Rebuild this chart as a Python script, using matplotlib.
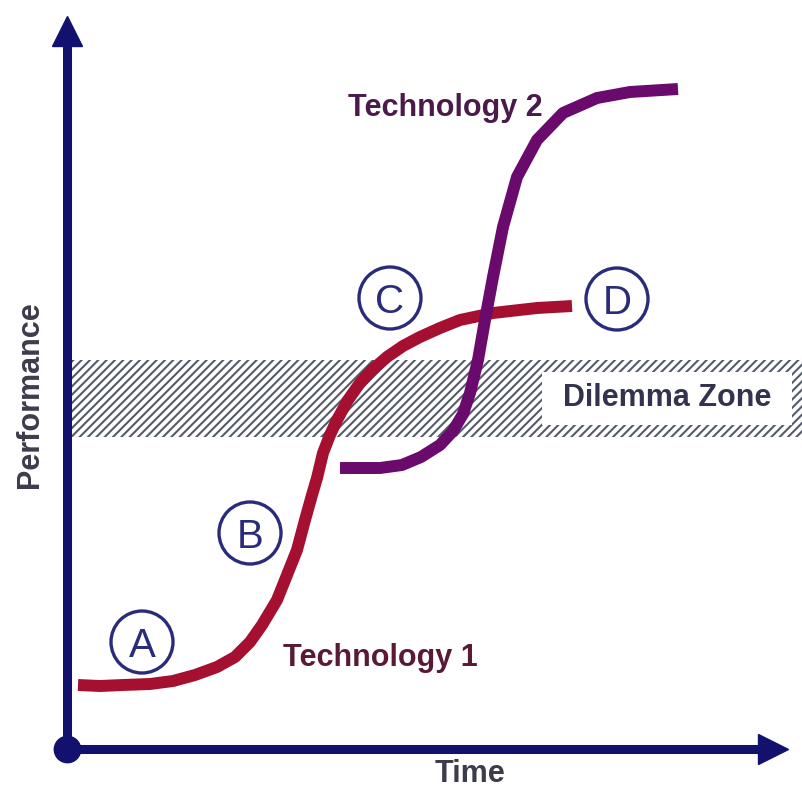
import matplotlib
matplotlib.use('Agg')
import matplotlib.pyplot as plt
from matplotlib.patches import Rectangle, Circle

# curve points (time, performance), 1 unit ~ 1 px
tech1_t = [11, 33, 56, 83, 106, 128, 150, 168, 183, 195, 210, 220, 230, 238, 245,
           250, 256, 263, 270, 281, 293, 305, 320, 336, 353, 373, 393, 426, 470, 505]
tech1_p = [64, 63, 64, 65, 68, 74, 82, 92, 107, 124, 149, 174, 199, 229, 254,
           271, 296, 314, 329, 349, 366, 379, 392, 403, 412, 421, 429, 436, 441, 443]

tech2_t = [273, 313, 335, 354, 373, 386, 396, 403, 411, 418, 426, 436, 450, 470, 496, 530, 563, 611]
tech2_p = [281, 281, 284, 292, 304, 318, 335, 356, 389, 429, 472, 522, 572, 609, 636, 651, 657, 660]

# stage markers
stage_labels = ['A', 'B', 'C', 'D']
stage_t = [75, 183, 323, 550]
stage_p = [107, 216, 451, 450]

# dilemma zone band
zone_lo, zone_hi = 312, 389
box_t0, box_t1 = 475, 725
box_lo, box_hi = 324, 377

t_max, p_max = 720, 732

navy = '#12126e'
red = '#a50f30'
purple = '#690a6c'
ring = '#2b2b7b'

plt.rcParams['hatch.linewidth'] = 1.5

fig = plt.figure(figsize=(8.02, 7.91), dpi=100)
ax = fig.add_axes([0, 0, 1, 1])
ax.set_xlim(-67, 735)
ax.set_ylim(-42, 749)
ax.axis('off')

# hatched zone
ax.add_patch(Rectangle((0, zone_lo), 735, zone_hi - zone_lo, facecolor='white',
                       edgecolor='#555b6b', hatch='////', lw=0, zorder=1))
ax.add_patch(Rectangle((box_t0, box_lo), box_t1 - box_t0, box_hi - box_lo,
                       facecolor='white', edgecolor='none', zorder=2))
ax.text((box_t0 + box_t1) / 2, (box_lo + box_hi) / 2, 'Dilemma Zone', ha='center', va='center',
        fontsize=22, fontweight='bold', family='Liberation Sans', color='#33334f', zorder=3)

# s-curves
ax.plot(tech1_t, tech1_p, color=red, lw=8.6, solid_capstyle='butt',
        solid_joinstyle='round', zorder=4)
ax.plot(tech2_t, tech2_p, color=purple, lw=8.6, solid_capstyle='butt',
        solid_joinstyle='round', zorder=4)

ax.text(313, 91, 'Technology 1', ha='center', va='center', fontsize=22,
        fontweight='bold', family='Liberation Sans', color='#5a1a35')
ax.text(378, 641, 'Technology 2', ha='center', va='center', fontsize=22,
        fontweight='bold', family='Liberation Sans', color='#4a1a4a')

# circled letters
for lab, t, p in zip(stage_labels, stage_t, stage_p):
    ax.add_patch(Circle((t, p), 31, facecolor='white', edgecolor=ring, lw=2.4, zorder=5))
    ax.text(t, p, lab, ha='center', va='center_baseline', fontsize=29,
            family='Liberation Sans', color=ring, zorder=6)

# axes with arrow heads
ax.plot([0, 0], [0, p_max - 20], color=navy, lw=6.5, solid_capstyle='butt', zorder=7)
ax.plot([0, t_max - 20], [0, 0], color=navy, lw=6.5, solid_capstyle='butt', zorder=7)
ax.plot(0, p_max - 14, marker='^', ms=21, color=navy, zorder=8)
ax.plot(t_max - 14, 0, marker='>', ms=21, color=navy, zorder=8)
ax.plot(0, 0, marker='o', ms=19, color=navy, zorder=8)

ax.text(403, -25, 'Time', ha='center', va='center', fontsize=22,
        fontweight='bold', family='Liberation Sans', color='#3c3c4c')
ax.text(-37, 354, 'Performance', ha='center', va='center', rotation=90, fontsize=22,
        fontweight='bold', family='Liberation Sans', color='#3c3c4c')

fig.savefig('out.png', dpi=100)
